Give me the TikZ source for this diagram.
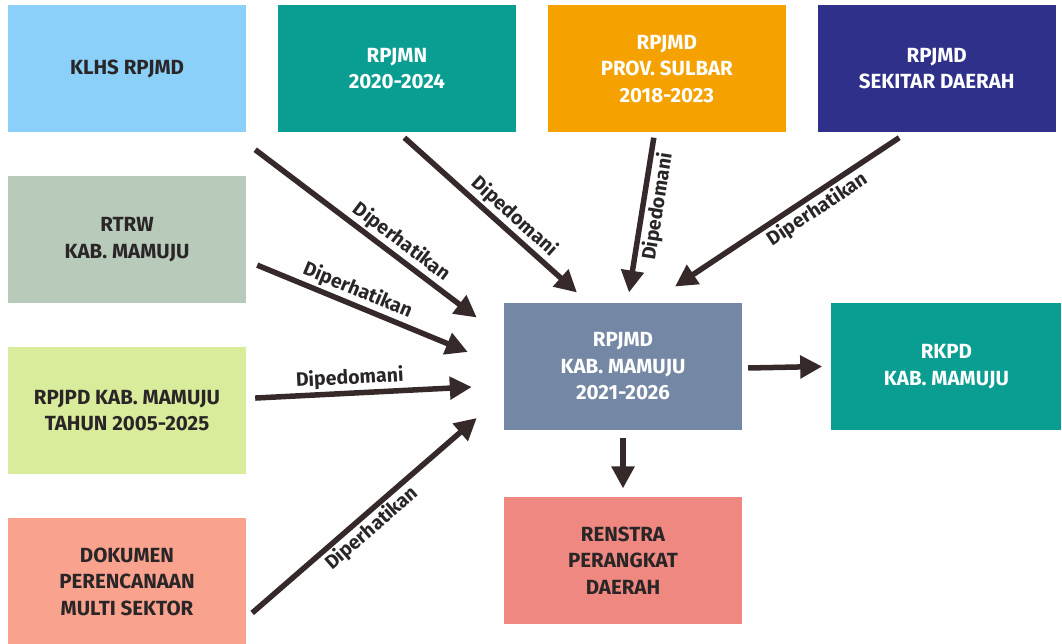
\documentclass[tikz,border=0pt]{standalone}
\usepackage{fontspec}
\setmainfont{Fira Sans}
\usetikzlibrary{arrows.meta,positioning,calc}

\definecolor{klhsblue}{HTML}{8AD0F8}
\definecolor{tealbox}{HTML}{0A9E92}
\definecolor{orangebox}{HTML}{F5A200}
\definecolor{navybox}{HTML}{2E3089}
\definecolor{sagebox}{HTML}{B8CBBB}
\definecolor{limebox}{HTML}{D9EC9C}
\definecolor{salmonbox}{HTML}{F9A38E}
\definecolor{slatebox}{HTML}{7488A5}
\definecolor{pinkbox}{HTML}{EE8880}
\definecolor{arrowbrown}{HTML}{36292A}
\definecolor{darktext}{HTML}{2A2627}

\begin{document}
\begin{tikzpicture}[
    x=1pt, y=-1pt,
    node distance=31.5pt,
    box/.style={rectangle, fill=#1, minimum width=238pt, minimum height=127.5pt, align=center, font=\fontsize{20.5}{26.5}\selectfont\bfseries, text=darktext},
    darkbox/.style={box=#1, text=white},
    arrow/.style={draw=arrowbrown, line width=5.5pt, -{Triangle[length=22pt,width=22pt]}},
    lbl/.style={font=\fontsize{19.5}{22}\selectfont\bfseries, text=darktext, sloped, inner sep=2pt}
]
    \useasboundingbox (0,0) rectangle (1062,644);

    \node[box=klhsblue] (klhs) at (127,68.75) {KLHS RPJMD};
    \node[darkbox=tealbox, right=of klhs] (rpjmn) {RPJMN\\2020-2024};
    \node[darkbox=orangebox, right=of rpjmn] (sulbar) {RPJMD\\PROV. SULBAR\\2018-2023};
    \node[darkbox=navybox, right=of sulbar] (sekitar) {RPJMD\\SEKITAR DAERAH};
    \node[box=sagebox, below=43pt of klhs] (rtrw) {RTRW\\KAB. MAMUJU};
    \node[box=limebox, below=43pt of rtrw] (rpjpd) {RPJPD KAB. MAMUJU\\TAHUN 2005-2025};
    \node[box=salmonbox, below=43pt of rpjpd] (dokumen) {DOKUMEN\\PERENCANAAN\\MULTI SEKTOR};

    \node[darkbox=slatebox] (rpjmd) at (623,366.5) {RPJMD\\KAB. MAMUJU\\2021-2026};
    \node[darkbox=tealbox, minimum width=230pt, right=89pt of rpjmd] (rkpd) {RKPD\\KAB. MAMUJU};
    \node[box=pinkbox, below=66pt of rpjmd] (renstra) {RENSTRA\\PERANGKAT\\DAERAH};

    \draw[arrow] ($(klhs.south east)+(9,17)$) -- node[lbl, pos=0.62, above] {Diperhatikan} ($(rpjmd.north west)+(-27,15)$);
    \draw[arrow] ($(rtrw.east)+(11,25.5)$) -- node[lbl, pos=0.45, above] {Diperhatikan} ($(rpjmd.west)+(-36,-14.5)$);
    \draw[arrow] ($(rpjmn.south)+(7.5,5)$) -- node[lbl, pos=0.58, above] {Dipedomani} ($(rpjmd.north)+(-46,-10)$);
    \draw[arrow] ($(sulbar.south)+(-13,5)$) -- node[lbl, pos=0.43, below] {Dipedomani} ($(rpjmd.north)+(6,-10)$);
    \draw[arrow] ($(sekitar.south)+(-37.5,5)$) -- node[lbl, pos=0.4, below] {Diperhatikan} ($(rpjmd.north)+(52,-16)$);
    \draw[arrow] ($(rpjpd.east)+(9,-12.5)$) -- node[lbl, pos=0.44, above] {Dipedomani} ($(rpjmd.west)+(-32,20.5)$);
    \draw[arrow] ($(dokumen.east)+(6,31.5)$) -- node[lbl, pos=0.49, below] {Diperhatikan} ($(rpjmd.west)+(-27,51.5)$);
    \draw[arrow] ($(rpjmd.east)+(6,1.5)$) -- ($(rkpd.west)+(-9,0)$);
    \draw[arrow] ($(rpjmd.south)+(0,8)$) -- ($(renstra.north)+(0,-8)$);
\end{tikzpicture}
\end{document}
